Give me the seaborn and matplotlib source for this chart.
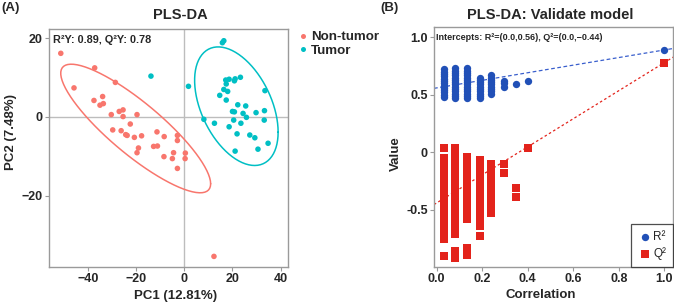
import numpy as np
import pandas as pd
import matplotlib
matplotlib.use('Agg')
import matplotlib.pyplot as plt
import seaborn as sns

# PLS-DA score plot data
non_tumor_pc1 = [-51.4, -37.3, -45.9, -28.7, -37.6, -34.0, -35.1, -33.7, -27.1, -25.5,
                 -30.4, -25.5, -19.7, -22.5, -29.8, -26.3, -24.4, -23.8, -20.8, -17.8,
                 -19.1, -19.7, -11.4, -8.4, -12.8, -11.2, -8.5, -4.5, -5.0, -2.9,
                 -2.9, 0.4, 0.3, -2.9, 12.3]
non_tumor_pc2 = [16.2, 12.5, 7.4, 8.8, 4.2, 5.2, 3.0, 3.4, 1.4, 1.8,
                 0.6, 0.1, 0.6, -1.8, -3.3, -3.5, -4.5, -4.7, -5.2, -4.8,
                 -7.9, -9.1, -3.8, -5.0, -7.5, -7.4, -10.1, -9.1, -10.6, -4.7,
                 -6.0, -9.2, -10.6, -13.1, -35.5]
tumor_pc1 = [15.8, 16.4, -13.9, 1.7, 17.2, 18.6, 17.4, 20.8, 21.1, 23.3,
             16.4, 18.0, 14.7, 17.4, 33.5, 22.2, 20.0, 20.8, 25.5, 24.4,
             25.8, 29.8, 33.3, 8.1, 12.5, 18.6, 20.5, 23.5, 21.9, 27.2,
             33.2, 29.3, 34.8, 21.1, 30.6]
tumor_pc2 = [18.9, 19.4, 10.4, 7.8, 9.4, 9.6, 8.4, 9.2, 9.7, 10.1,
             7.0, 6.5, 5.5, 4.3, 6.7, 3.1, 1.4, 1.3, 2.8, 0.9,
             -0.1, 1.1, 1.6, -0.6, -1.6, -2.5, -0.8, -1.6, -4.3, -4.6,
             -0.8, -5.3, -6.7, -8.7, -8.2]
groups = ['Non-tumor', 'Tumor']
group_colors = ['#F8766D', '#00BFC4']

# permutation test (correlation vs R2 / Q2)
r2_cols = {
    0.03: [0.48, 0.50, 0.52, 0.54, 0.56, 0.58, 0.60, 0.62, 0.64, 0.66, 0.68, 0.70, 0.72],
    0.08: [0.47, 0.49, 0.51, 0.53, 0.55, 0.57, 0.59, 0.61, 0.63, 0.65, 0.67, 0.69, 0.71, 0.73],
    0.135: [0.47, 0.49, 0.51, 0.53, 0.55, 0.57, 0.59, 0.61, 0.63, 0.65, 0.67, 0.69, 0.71, 0.73],
    0.19: [0.47, 0.49, 0.51, 0.53, 0.55, 0.57, 0.59, 0.61, 0.63, 0.65],
    0.24: [0.51, 0.53, 0.55, 0.57, 0.59, 0.61, 0.63, 0.65, 0.67],
    0.295: [0.57, 0.60, 0.62],
    0.35: [0.59],
    0.40: [0.62],
    1.0: [0.89],
}
q2_cols = {
    0.03: [0.04, -0.05, -0.08, -0.11, -0.14, -0.17, -0.20, -0.23, -0.26, -0.29, -0.32,
           -0.35, -0.38, -0.41, -0.44, -0.47, -0.50, -0.53, -0.56, -0.59, -0.62, -0.65,
           -0.68, -0.71, -0.75, -0.90],
    0.08: [0.04, 0.01, -0.02, -0.05, -0.08, -0.11, -0.14, -0.17, -0.20, -0.23, -0.26,
           -0.29, -0.32, -0.35, -0.38, -0.41, -0.44, -0.47, -0.50, -0.53, -0.56, -0.59,
           -0.62, -0.65, -0.71, -0.86, -0.92],
    0.135: [-0.04, -0.07, -0.10, -0.13, -0.16, -0.19, -0.22, -0.25, -0.28, -0.31, -0.34,
            -0.37, -0.40, -0.43, -0.46, -0.49, -0.52, -0.55, -0.58, -0.83, -0.89],
    0.19: [-0.07, -0.10, -0.13, -0.16, -0.19, -0.25, -0.28, -0.31, -0.34, -0.37, -0.43,
           -0.46, -0.52, -0.55, -0.58, -0.61, -0.64, -0.73],
    0.24: [-0.10, -0.13, -0.16, -0.19, -0.22, -0.25, -0.28, -0.31, -0.34, -0.37, -0.40,
           -0.43, -0.46, -0.53],
    0.295: [-0.10, -0.18],
    0.35: [-0.31, -0.39],
    0.40: [0.037],
    1.0: [0.78],
}
intercept_r2, intercept_q2 = 0.56, -0.44
model_r2, model_q2 = 0.89, 0.78


def trob_ellipse(x, y, level=0.95, nu=5, segments=80):
    # robust t-based ellipse like ggplot2 stat_ellipse(type = "t")
    pts = np.column_stack([x, y])
    n, p = pts.shape
    w = np.ones(n)
    loc = pts.mean(axis=0)
    for _ in range(200):
        w0 = w
        d = pts - loc
        cov = (d * (w / w.sum())[:, None]).T @ d
        q = np.einsum('ij,jk,ik->i', d, np.linalg.inv(cov), d)
        w = (nu + p) / (nu + q)
        loc = (w[:, None] * pts).sum(0) / w.sum()
        if np.all(np.abs(w - w0) < 1e-6):
            break
    cov = (d * w[:, None]).T @ d / n
    dfd = n - 1
    f = dfd / 2 * ((1 - level) ** (-2 / dfd) - 1)
    radius = np.sqrt(2 * f)
    t = np.linspace(0, 2 * np.pi, segments)
    circle = np.column_stack([np.cos(t), np.sin(t)])
    ell = loc + radius * circle @ np.linalg.cholesky(cov).T
    return ell[:, 0], ell[:, 1]


sns.set_style('white')
plt.rcParams['font.family'] = ['Liberation Sans', 'DejaVu Sans']
plt.rcParams['font.weight'] = 'bold'

fig = plt.figure(figsize=(6.74, 3.04), dpi=100)
ax1 = fig.add_axes([0.0727, 0.1217, 0.3550, 0.783])
ax2 = fig.add_axes([0.6439, 0.1227, 0.3550, 0.7875])

frame_grey = '#9a9a9a'

# ---- Panel A ----
df_scores = pd.DataFrame({
    'PC1': non_tumor_pc1 + tumor_pc1,
    'PC2': non_tumor_pc2 + tumor_pc2,
    'Group': [groups[0]] * len(non_tumor_pc1) + [groups[1]] * len(tumor_pc1),
})
ax1.axhline(0, color='#bdbdbd', lw=1, zorder=0)
ax1.axvline(0, color='#bdbdbd', lw=1, zorder=0)
sns.scatterplot(data=df_scores, x='PC1', y='PC2', hue='Group', hue_order=groups,
                palette=group_colors, s=16, linewidth=0, ax=ax1)
for g, col in zip(groups, group_colors):
    sub = df_scores[df_scores['Group'] == g]
    ex, ey = trob_ellipse(sub['PC1'].values, sub['PC2'].values)
    ax1.plot(ex, ey, color=col, lw=1.1)
ax1.set_xlim(-56.3, 43.2)
ax1.set_ylim(-38.2, 22.4)
ax1.set_xticks([-40, -20, 0, 20, 40])
ax1.set_yticks([-20, 0, 20])
ax1.set_xlabel('PC1 (12.81%)', fontsize=9.5, fontweight='bold', labelpad=2)
ax1.xaxis.set_label_coords(0.53, -0.095)
ax1.set_ylabel('PC2 (7.48%)', fontsize=9.5, fontweight='bold', labelpad=1)
ax1.yaxis.set_label_coords(-0.135, 0.568)
ax1.set_title('PLS-DA', fontsize=10.5, fontweight='bold', pad=7, x=0.55)
ax1.text(0.018, 0.975, 'R²Y: 0.89, Q²Y: 0.78', transform=ax1.transAxes,
         fontsize=7.8, fontweight='bold', va='top', ha='left')
ax1.legend(loc='upper left', bbox_to_anchor=(0.99, 1.03), frameon=False,
           handletextpad=0.0, borderaxespad=0.3, labelspacing=0.1, markerscale=0.9,
           handlelength=1.2, prop={'weight': 'bold', 'size': 9.6})

# ---- Panel B ----
df_perm = pd.concat([
    pd.DataFrame({'Correlation': [c] * len(v), 'Value': v, 'Stat': 'R²'}) for c, v in r2_cols.items()
] + [
    pd.DataFrame({'Correlation': [c] * len(v), 'Value': v, 'Stat': 'Q²'}) for c, v in q2_cols.items()
], ignore_index=True)
df_r2 = df_perm[df_perm['Stat'] == 'R²']
df_q2 = df_perm[df_perm['Stat'] == 'Q²']
sns.scatterplot(data=df_r2, x='Correlation', y='Value', color='#2150B7', marker='o',
                s=28, linewidth=0, ax=ax2, zorder=3, label='R²')
sns.scatterplot(data=df_q2, x='Correlation', y='Value', color='#E3231B', marker='s',
                s=28, linewidth=0, ax=ax2, zorder=3, label='Q²')
ax2.axline((0, intercept_r2), (1.0, model_r2), color='#3A5FCD', lw=0.9, ls=(0, (3, 2)), zorder=2)
ax2.axline((0, intercept_q2), (1.0, model_q2), color='#E3231B', lw=0.9, ls=(0, (2, 2)), zorder=2)
ax2.set_xlim(-0.012, 1.039)
ax2.set_ylim(-0.995, 1.087)
ax2.set_xticks([0.0, 0.2, 0.4, 0.6, 0.8, 1.0])
ax2.set_xticklabels(['0.0', '0.2', '0.4', '0.6', '0.8', '1.0'])
ax2.set_yticks([-0.5, 0, 0.5, 1.0])
ax2.set_yticklabels(['-0.5', '0', '0.5', '1.0'])
ax2.set_xlabel('Correlation', fontsize=9.5, fontweight='bold', labelpad=2)
ax2.xaxis.set_label_coords(0.448, -0.095)
ax2.set_ylabel('Value', fontsize=9.5, fontweight='bold', labelpad=1)
ax2.yaxis.set_label_coords(-0.135, 0.473)
ax2.set_title('PLS-DA: Validate model', fontsize=10.5, fontweight='bold', pad=6, x=0.485)
ax2.text(0.008, 0.975, 'Intercepts: R²=(0.0,0.56), Q²=(0.0,\u22120.44)', transform=ax2.transAxes,
         fontsize=6.5, fontweight='bold', va='top', ha='left')
leg = ax2.legend(loc='lower right', frameon=True, fancybox=False, borderaxespad=0,
                 handletextpad=0.1, handlelength=1.2, labelspacing=0.3, borderpad=0.6,
                 prop={'weight': 'normal', 'size': 8.5})
leg.get_frame().set_edgecolor('#222222')
leg.get_frame().set_linewidth(0.9)

for ax in (ax1, ax2):
    for sp in ax.spines.values():
        sp.set_visible(True)
        sp.set_color(frame_grey)
        sp.set_linewidth(1.0)
    ax.tick_params(axis='both', which='major', labelsize=9, length=3, width=0.8,
                   color=frame_grey, pad=1.5, bottom=True, left=True)
    for lab in ax.get_xticklabels() + ax.get_yticklabels():
        lab.set_fontweight('bold')

fig.text(0.002, 0.995, '(A)', fontsize=9.5, fontweight='bold', va='top', ha='left')
fig.text(0.564, 0.995, '(B)', fontsize=9.5, fontweight='bold', va='top', ha='left')

plt.savefig('out.png', dpi=100)
plt.close()
